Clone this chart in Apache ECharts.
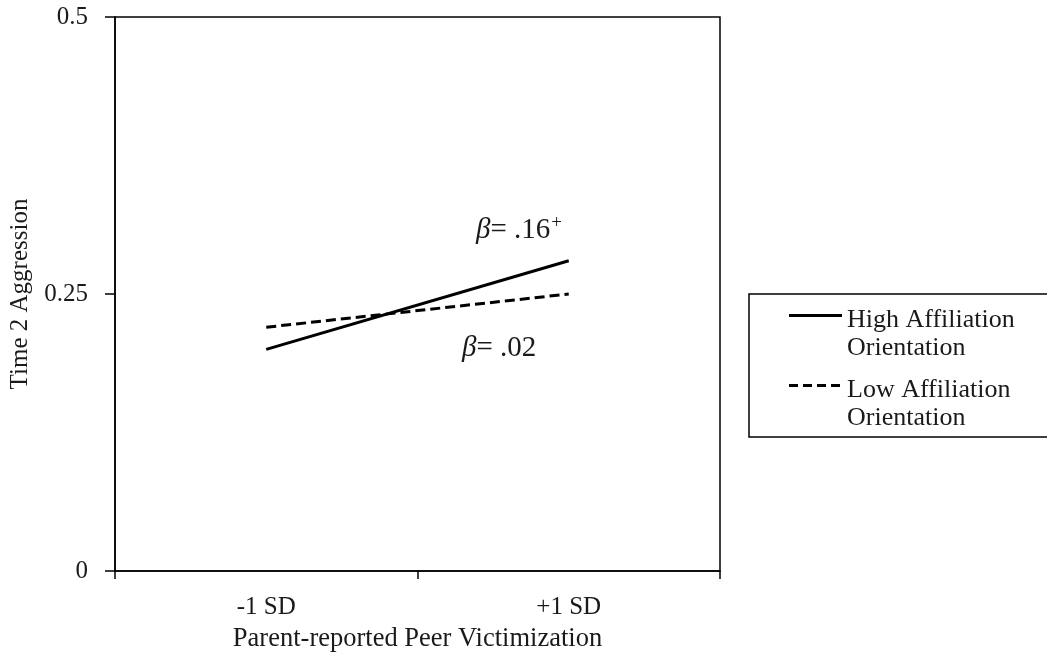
<!DOCTYPE html>
<html>
<head>
<meta charset="utf-8">
<script src="https://cdn.jsdelivr.net/npm/echarts@6/dist/echarts.min.js"></script>
<style>
  html, body { margin: 0; padding: 0; background: #fff; }
  #chart { width: 1047px; height: 659px; }
</style>
</head>
<body>
<div id="chart"></div>
<script>
const categories = ['-1 SD', '+1 SD']
const highAffiliation = [0.20, 0.28]
const lowAffiliation = [0.22, 0.25]
const yTicks = [0, 0.25, 0.5]
const seriesNames = ['High Affiliation\nOrientation', 'Low Affiliation\nOrientation']

const font = 'Liberation Serif'
const ink = '#1a1a1a'

// legend icons: line sits near the top of a 53x40 box so it lines up with the first text line
const solidIcon = 'path://M0,0 L53,0 L53,3 L0,3 Z M0,40 L0,40'
const dashIcon = 'path://M0,0 L9,0 L9,3 L0,3 Z M14,0 L23,0 L23,3 L14,3 Z M28,0 L37,0 L37,3 L28,3 Z M42,0 L51,0 L51,3 L42,3 Z M53,40 L53,40'

let chart = echarts.init(document.getElementById('chart'))
chart.setOption({
    backgroundColor: '#fff',
    textStyle: { fontFamily: font, color: ink },
    grid: {
        left: 115, right: 327, top: 17, bottom: 88,
        outerBoundsMode: 'none',
        containLabel: false,
        show: true, borderColor: '#000', borderWidth: 1.5
    },
    legend: {
        orient: 'vertical',
        left: 749, top: 294,
        data: [
            { name: seriesNames[0], icon: solidIcon },
            { name: seriesNames[1], icon: dashIcon }
        ],
        borderColor: '#000', borderWidth: 1.5,
        padding: [12, 60, 5, 40],
        itemWidth: 53, itemHeight: 40, itemGap: 14,
        textStyle: { fontFamily: font, fontSize: 26, color: ink, lineHeight: 28 }
    },
    xAxis: {
        type: 'category',
        data: categories,
        boundaryGap: true,
        name: 'Parent-reported Peer Victimization',
        nameLocation: 'middle',
        nameGap: 55,
        nameTextStyle: { fontFamily: font, fontSize: 26.5, color: ink },
        axisLine: { lineStyle: { color: '#000', width: 1.5 } },
        axisTick: { show: true, inside: false, length: 8, lineStyle: { color: '#000', width: 1.5 } },
        axisLabel: { fontFamily: font, fontSize: 25, color: ink, margin: 24 },
        splitLine: { show: false }
    },
    yAxis: {
        type: 'value',
        min: yTicks[0], max: yTicks[yTicks.length - 1], interval: yTicks[1] - yTicks[0],
        name: 'Time 2 Aggression',
        nameLocation: 'middle',
        nameRotate: 90,
        nameGap: 81,
        nameTextStyle: { fontFamily: font, fontSize: 25, color: ink },
        axisLine: { show: true, lineStyle: { color: '#000', width: 1.5 } },
        axisTick: { show: true, inside: false, length: 10, lineStyle: { color: '#000', width: 1.5 } },
        axisLabel: { fontFamily: font, fontSize: 25, color: ink, margin: 27 },
        splitLine: { show: false }
    },
    series: [{
        name: seriesNames[0],
        type: 'line',
        data: highAffiliation,
        symbol: 'none',
        lineStyle: { color: '#000', width: 3, type: 'solid' },
        itemStyle: { color: '#000' }
    }, {
        name: seriesNames[1],
        type: 'line',
        data: lowAffiliation,
        symbol: 'none',
        lineStyle: { color: '#000', width: 3, type: [10, 5] },
        itemStyle: { color: '#000' }
    }],
    graphic: [{
        type: 'text',
        left: 476, top: 214,
        style: {
            text: '{i|β}{n|= .16}{s|+}',
            rich: {
                i: { fontFamily: font, fontStyle: 'italic', fontSize: 29, fill: ink },
                n: { fontFamily: font, fontSize: 29, fill: ink },
                s: { fontFamily: font, fontSize: 19, fill: ink, padding: [0, 0, 14, 1] }
            }
        }
    }, {
        type: 'text',
        left: 462, top: 334,
        style: {
            text: '{i|β}{n|= .02}',
            rich: {
                i: { fontFamily: font, fontStyle: 'italic', fontSize: 29, fill: ink },
                n: { fontFamily: font, fontSize: 29, fill: ink }
            }
        }
    }]
})
</script>
</body>
</html>
